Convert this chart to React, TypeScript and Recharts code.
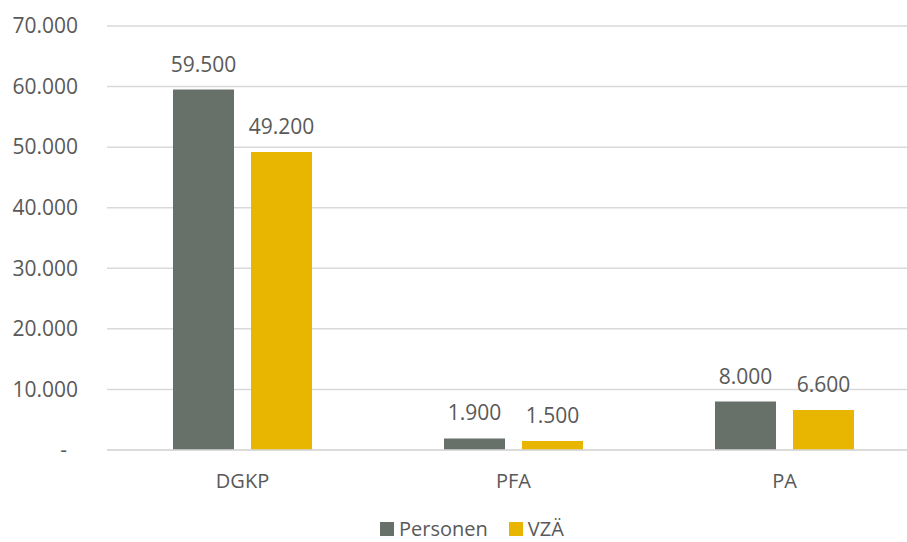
import { BarChart, Bar, XAxis, YAxis, CartesianGrid, Legend, LabelList } from 'recharts';

const categories = ['DGKP', 'PFA', 'PA'];
const personen = [59500, 1900, 8000];
const vzae = [49200, 1500, 6600];
const yTicks = [0, 10000, 20000, 30000, 40000, 50000, 60000, 70000];

const data = categories.map((name, i) => ({ name, personen: personen[i], vzae: vzae[i] }));

const GRAY = '#67716A';
const YELLOW = '#E8B500';
const TEXT = '#595959';
const FONT = '"Open Sans", sans-serif';

const fmt = (v: number) => String(Math.round(v)).replace(/\B(?=(\d{3})+(?!\d))/g, '.');

function YTick({ x, y, payload }: any) {
  const zero = payload.value === 0;
  return (
    <text x={zero ? x - 11 : x} y={y} dy="0.35em" textAnchor="end" fill={TEXT} fontSize={21} fontFamily={FONT}>
      {zero ? '-' : fmt(payload.value)}
    </text>
  );
}

function TopLabel({ x, y, width, value }: any) {
  return (
    <text x={x + width / 2} y={y - 18} textAnchor="middle" fill={TEXT} fontSize={21} fontFamily={FONT}>
      {fmt(value)}
    </text>
  );
}

function LegendContent() {
  const items = [
    { label: 'Personen', color: GRAY },
    { label: 'VZÄ', color: YELLOW },
  ];
  return (
    <div style={{ display: 'flex', alignItems: 'center', fontFamily: FONT, fontSize: 20, color: TEXT, lineHeight: '20px' }}>
      {items.map((it) => (
        <div key={it.label} style={{ display: 'flex', alignItems: 'center', marginRight: 21 }}>
          <span style={{ width: 14, height: 14, background: it.color, display: 'inline-block', marginRight: 5 }} />
          <span>{it.label}</span>
        </div>
      ))}
    </div>
  );
}

export default function App() {
  return (
    <div style={{ position: 'absolute', left: 0, top: 0, width: 907, height: 542, overflow: 'hidden', background: '#fff' }}>
      <BarChart
        width={920}
        height={542}
        data={data}
        margin={{ top: 26, right: 0, left: 0, bottom: 0 }}
        barCategoryGap={66}
        barGap={17}
      >
        <CartesianGrid vertical={false} stroke="#D9D9D9" strokeWidth={1.5} />
        <XAxis
          dataKey="name"
          height={62}
          tickLine={false}
          axisLine={{ stroke: '#D9D9D9', strokeWidth: 1.5 }}
          tickSize={0}
          tickMargin={24}
          tick={{ fill: TEXT, fontSize: 20, fontFamily: FONT }}
        />
        <YAxis
          width={107}
          domain={[0, 70000]}
          ticks={yTicks}
          interval={0}
          axisLine={false}
          tickLine={false}
          tickSize={0}
          tickMargin={29}
          tick={<YTick />}
        />
        <Legend
          height={30}
          content={<LegendContent />}
          wrapperStyle={{ position: 'absolute', top: 519, left: 380, width: 'auto' }}
        />
        <Bar dataKey="personen" name="Personen" fill={GRAY} isAnimationActive={false}>
          <LabelList dataKey="personen" content={<TopLabel />} />
        </Bar>
        <Bar dataKey="vzae" name="VZÄ" fill={YELLOW} isAnimationActive={false}>
          <LabelList dataKey="vzae" content={<TopLabel />} />
        </Bar>
      </BarChart>
    </div>
  );
}
